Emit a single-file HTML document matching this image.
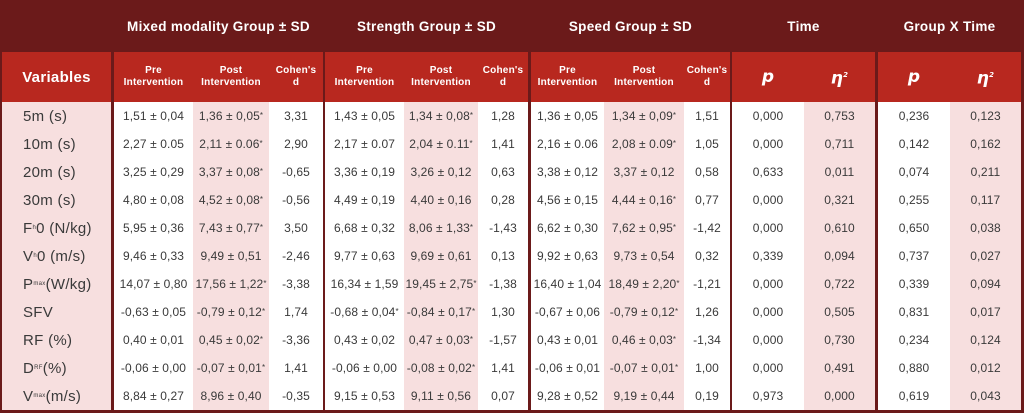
<!DOCTYPE html>
<html><head><meta charset="utf-8"><style>
body{margin:0;width:1024px;height:413px;overflow:hidden;background:#fff;font-family:"Liberation Sans",sans-serif}
#t{position:relative;width:1024px;height:413px}
.a{position:absolute;box-sizing:border-box;display:flex;align-items:center;justify-content:center;text-align:center}
.h1{color:#fff;font-weight:bold;font-size:13.5px;letter-spacing:0.3px}
.h2{color:#fff;font-weight:bold;font-size:10px;line-height:12px;letter-spacing:0.2px}
.c{color:#3a3a3a;font-size:12px;white-space:nowrap;letter-spacing:0.1px}
.v{color:#3a3a3a;font-size:15px;justify-content:flex-start;padding-left:21px;white-space:nowrap;letter-spacing:0.3px}
sub{font-size:6px;vertical-align:baseline}
</style></head><body>
<div id="t"></div>
<script>
const variables=["5m (s)","10m (s)","20m (s)","30m (s)","F<sub>h</sub>0 (N/kg)","V<sub>h</sub>0 (m/s)","P<sub>max</sub>(W/kg)","SFV","RF (%)","D<sub>RF</sub> (%)","V<sub>max</sub> (m/s)"];
const mixed=[["1,51 ± 0,04","1,36 ± 0,05*","3,31"],["2,27 ± 0.05","2,11 ± 0.06*","2,90"],["3,25 ± 0,29","3,37 ± 0,08*","-0,65"],["4,80 ± 0,08","4,52 ± 0,08*","-0,56"],["5,95 ± 0,36","7,43 ± 0,77*","3,50"],["9,46 ± 0,33","9,49 ± 0,51","-2,46"],["14,07 ± 0,80","17,56 ± 1,22*","-3,38"],["-0,63 ± 0,05","-0,79 ± 0,12*","1,74"],["0,40 ± 0,01","0,45 ± 0,02*","-3,36"],["-0,06 ± 0,00","-0,07 ± 0,01*","1,41"],["8,84 ± 0,27","8,96 ± 0,40","-0,35"]];
const strength=[["1,43 ± 0,05","1,34 ± 0,08*","1,28"],["2,17 ± 0.07","2,04 ± 0.11*","1,41"],["3,36 ± 0,19","3,26 ± 0,12","0,63"],["4,49 ± 0,19","4,40 ± 0,16","0,28"],["6,68 ± 0,32","8,06 ± 1,33*","-1,43"],["9,77 ± 0,63","9,69 ± 0,61","0,13"],["16,34 ± 1,59","19,45 ± 2,75*","-1,38"],["-0,68 ± 0,04*","-0,84 ± 0,17*","1,30"],["0,43 ± 0,02","0,47 ± 0,03*","-1,57"],["-0,06 ± 0,00","-0,08 ± 0,02*","1,41"],["9,15 ± 0,53","9,11 ± 0,56","0,07"]];
const speed=[["1,36 ± 0,05","1,34 ± 0,09*","1,51"],["2,16 ± 0.06","2,08 ± 0.09*","1,05"],["3,38 ± 0,12","3,37 ± 0,12","0,58"],["4,56 ± 0,15","4,44 ± 0,16*","0,77"],["6,62 ± 0,30","7,62 ± 0,95*","-1,42"],["9,92 ± 0,63","9,73 ± 0,54","0,32"],["16,40 ± 1,04","18,49 ± 2,20*","-1,21"],["-0,67 ± 0,06","-0,79 ± 0,12*","1,26"],["0,43 ± 0,01","0,46 ± 0,03*","-1,34"],["-0,06 ± 0,01","-0,07 ± 0,01*","1,00"],["9,28 ± 0,52","9,19 ± 0,44","0,19"]];
const timeStats=[["0,000","0,753"],["0,000","0,711"],["0,633","0,011"],["0,000","0,321"],["0,000","0,610"],["0,339","0,094"],["0,000","0,722"],["0,000","0,505"],["0,000","0,730"],["0,000","0,491"],["0,973","0,000"]];
const gxtStats=[["0,236","0,123"],["0,142","0,162"],["0,074","0,211"],["0,255","0,117"],["0,650","0,038"],["0,737","0,027"],["0,339","0,094"],["0,831","0,017"],["0,234","0,124"],["0,880","0,012"],["0,619","0,043"]];
const T=document.getElementById('t');
function box(x,y,w,h,bg,cls,html){const d=document.createElement('div');d.className='a '+(cls||'');d.style.cssText=`left:${x}px;top:${y}px;width:${w}px;height:${h}px;background:${bg||'transparent'}`;if(html!=null)d.innerHTML=html;T.appendChild(d);return d;}
const DARK='#6b1a1a',RED='#b8281f',PINK='#f7dfdf';
const cols=[[114,193,0],[193,269,1],[269,323,0],[325,404,0],[404,478,1],[478,528,0],[531,604,0],[604,684,1],[684,730,0],[732,804,0],[804,875,1],[878,950,0],[950,1021,1]];
let e=box(0,0,1024,52,DARK);


const groups=[["Mixed modality Group ± SD",114,323],["Strength Group ± SD",325,528],["Speed Group ± SD",531,730],["Time",732,875],["Group X Time",878,1021]];
groups.forEach(g=>{const d=box(g[1],0,g[2]-g[1],52,null,'h1',g[0]);

});
e=box(0,52,1024,361,DARK);


e=box(2,52,109,50,RED,'h1','<span style="font-size:15px">Variables</span>');


const sub=["Pre<br>Intervention","Post<br>Intervention","Cohen's<br>d"];
cols.forEach((c,i)=>{let html=i<9?sub[i%3]:(i%2===1?'<i style="font-size:17px;font-family:\'DejaVu Sans\',sans-serif">p</i>':'<i style="font-size:17px;font-family:\'DejaVu Sans\',sans-serif">η<sup style="font-size:7px">2</sup></i>');
const d=box(c[0],52,c[1]-c[0],50,RED,'h2',html);

});
e=box(2,102,109,308,PINK);


cols.forEach(c=>{const d=box(c[0],102,c[1]-c[0],308,c[2]?PINK:'#fff');

});
variables.forEach((v,r)=>{const y=102+r*28;
let d=box(2,y,109,28,null,'v',v);


const vals=[...mixed[r],...strength[r],...speed[r],...timeStats[r],...gxtStats[r]];
vals.forEach((t,i)=>{const c=cols[i];const cell=box(c[0],y,c[1]-c[0],28,null,'c',t.replace('*','<sup style="font-size:8px;position:relative;top:-1px">*</sup>'));

});});
</script>
</body></html>
